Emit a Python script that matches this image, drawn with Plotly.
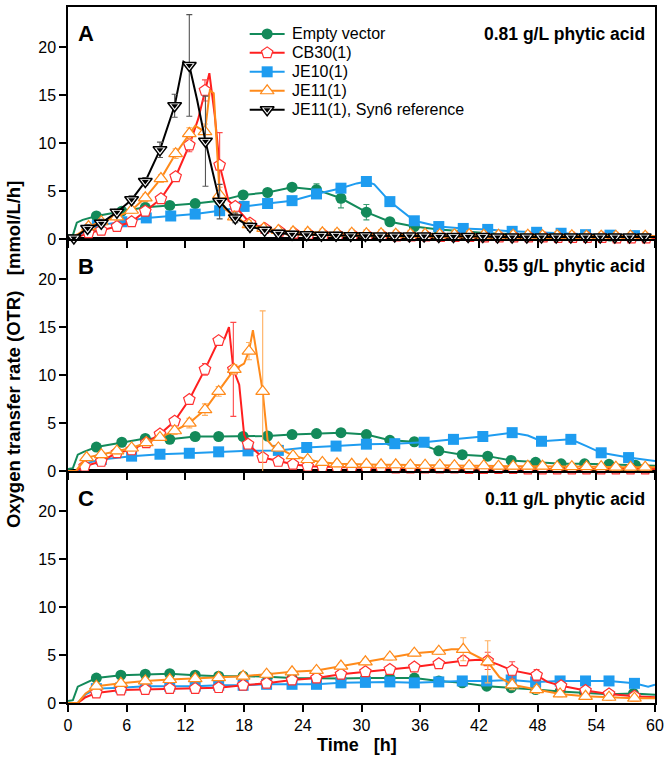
import plotly.graph_objects as go

# ---------------- data (time in h, OTR in mmol/L/h, e = error bar; None = no marker) ----------------
# Panel A : 0.81 g/L phytic acid
A_empty_t = [0, 0.5, 0.9, 1.5, 2.9, 5.5, 7.9, 10.4, 13.0, 15.5, 17.9, 20.4, 22.9, 25.4, 27.9, 30.5, 32.9, 35.4, 37.9, 40.4, 42.9, 45.4, 47.9, 50.4, 52.9, 55.4, 57.9, 60]
A_empty_y = [0.4, 0.4, 1.7, 2.0, 2.4, 2.9, 3.3, 3.5, 3.7, 4.0, 4.6, 4.85, 5.4, 5.15, 4.25, 2.8, 1.8, 1.3, 1.0, 0.8, 0.6, 0.5, 0.45, 0.4, 0.35, 0.3, 0.3, 0.3]
A_empty_e = [None, None, None, None, 0.2, 0.15, 0.15, 0.15, 0.15, 0.2, 0.2, 0.2, 0.2, 0.6, 1.0, 0.8, 0.3, 0.2, 0.15, 0.1, 0.1, 0.1, 0.1, 0.1, 0.1, 0.1, 0.1, None]

A_cb30_t = [0, 1.0, 2.1, 3.4, 5.0, 6.5, 7.9, 9.5, 11.0, 12.4,
            13.3, 14.0, 14.45, 15.0, 15.5, 16.4, 17.1, 18.6, 20.1, 21.6,
            23.1, 24.6, 26.1, 27.6, 29.1, 30.6, 32.1, 33.6, 35.1, 36.6,
            38.1, 39.6, 41.1, 42.6, 44.1, 45.6, 47.1, 48.6, 50.1, 51.6,
            53.1, 54.6, 56.1, 57.6, 59.1, 60]
A_cb30_y = [0, 0.2, 0.65, 0.9, 1.3, 1.8, 2.9, 4.2, 6.5, 9.8,
            12.5, 15.5, 17.3, 12.9, 7.7, 4.0, 3.4, 1.65, 1.1, 0.8,
            0.6, 0.5, 0.45, 0.4, 0.4, 0.35, 0.35, 0.3, 0.3, 0.3,
            0.25, 0.25, 0.25, 0.2, 0.2, 0.2, 0.2, 0.2, 0.15, 0.15,
            0.15, 0.15, 0.1, 0.1, 0.1, 0.1]
A_cb30_e = [None, None, 0.2, 0.2, 0.2, 0.2, 0.3, 0.3, 0.4, 0.7,
            None, 1.1, None, None, 3.4, None, 0.4, 0.3, 0.3, 0.2,
            0.2, 0.2, 0.2, 0.2, 0.2, 0.2, 0.2, 0.2, 0.2, 0.2,
            0.2, 0.2, 0.2, 0.2, 0.2, 0.2, 0.2, 0.2, 0.2, 0.2,
            0.2, 0.2, 0.2, 0.2, 0.2, None]

A_je10_t = [0, 0.9, 1.5, 2.6, 3.0, 5.5, 8.0, 10.5, 13.0, 15.5,
            18.0, 20.4, 22.9, 25.4, 27.9, 29.5, 30.5, 31.3, 32.9, 35.4,
            37.9, 40.4, 42.9, 45.4, 47.9, 50.4, 52.9, 55.4, 57.9, 60]
A_je10_y = [0, 0, 0.7, 1.1, 1.4, 1.8, 2.2, 2.4, 2.6, 2.95,
            3.4, 3.7, 4.0, 4.7, 5.3, 5.8, 6.0, 5.7, 3.9, 1.9,
            1.3, 1.1, 1.0, 0.8, 0.7, 0.6, 0.45, 0.4, 0.35, 0.3]
A_je10_e = [None, None, None, None, 0.1, 0.1, 0.1, 0.1, 0.1, 0.1,
            0.15, 0.15, 0.15, 0.2, 0.3, None, 0.3, None, 0.3, 0.2,
            0.15, 0.1, 0.1, 0.1, 0.1, 0.1, 0.1, 0.1, 0.1, None]

A_je11_t = [0, 1.0, 2.1, 3.4, 5.0, 6.5, 7.9, 9.5, 11.0, 12.4,
            13.0, 14.0, 14.5, 14.9, 15.5, 16.0, 17.0, 18.5, 20.0, 21.5,
            23.0, 24.5, 26.0, 27.5, 29.0, 30.5, 32.0, 33.5, 35.0, 36.5,
            38.0, 39.5, 41.0, 42.5, 44.0, 45.5, 47.0, 48.5, 50.0, 51.5,
            53.0, 54.5, 56.0, 57.5, 59.0, 60]
A_je11_y = [0, 0.5, 1.3, 1.8, 2.3, 3.0, 4.3, 6.3, 8.9, 11.0,
            11.8, 11.2, 15.5, 15.2, 4.6, 3.2, 2.3, 1.5, 1.1, 0.9,
            0.75, 0.7, 0.65, 0.6, 0.6, 0.55, 0.55, 0.5, 0.5, 0.5,
            0.45, 0.45, 0.45, 0.4, 0.4, 0.4, 0.4, 0.35, 0.35, 0.35,
            0.3, 0.3, 0.3, 0.3, 0.3, 0.3]
A_je11_e = [None, None, 0.3, 0.3, 0.3, 0.3, 0.4, 0.4, 0.5, 0.6,
            None, 0.8, None, None, 0.8, None, 0.4, 0.4, 0.3, 0.3,
            0.4, 0.4, 0.4, 0.4, 0.4, 0.4, 0.4, 0.4, 0.4, 0.4,
            0.4, 0.4, 0.4, 0.4, 0.4, 0.4, 0.4, 0.4, 0.4, 0.4,
            0.4, 0.4, 0.4, 0.4, 0.4, None]

A_syn6_t = [0, 0.6, 2.0, 3.4, 5.0, 6.5, 7.9, 9.4, 10.9, 11.8,
            12.4, 13.2, 14.05, 15.5, 17.1, 18.6, 20.1, 21.5, 22.9, 24.4,
            25.9, 27.4, 28.9, 30.4, 31.9, 33.4, 34.9, 36.4, 37.9, 39.4,
            40.9, 42.4, 43.9, 45.4, 46.9, 48.4, 49.9, 51.4, 52.9, 54.4,
            55.9, 57.4, 58.9, 60]
A_syn6_y = [0, 0.1, 1.1, 1.65, 2.8, 4.1, 6.0, 9.3, 13.9, 18.5,
            18.1, 14.5, 10.2, 3.9, 2.2, 1.3, 0.9, 0.6, 0.5, 0.45,
            0.4, 0.4, 0.35, 0.35, 0.3, 0.3, 0.3, 0.3, 0.25, 0.25,
            0.25, 0.25, 0.2, 0.2, 0.2, 0.2, 0.2, 0.2, 0.2, 0.2,
            0.2, 0.2, 0.2, 0.2]
A_syn6_e = [None, 0.1, 0.4, 0.4, 0.3, 0.4, 0.4, 0.8, 1.2, None,
            5.3, None, 4.7, 1.8, 0.5, 0.4, 0.3, 0.3, 0.3, 0.3,
            0.3, 0.3, 0.3, 0.3, 0.3, 0.3, 0.3, 0.3, 0.3, 0.3,
            0.3, 0.3, 0.3, 0.3, 0.3, 0.3, 0.3, 0.3, 0.3, 0.3,
            0.3, 0.3, 0.3, None]

# Panel B : 0.55 g/L phytic acid
B_empty_t = [0, 0.5, 1.0, 1.6, 2.9, 5.5, 7.9, 10.4, 13.0, 15.4,
             17.9, 20.4, 22.9, 25.4, 27.9, 30.5, 32.9, 35.4, 37.9, 40.3,
             42.9, 45.3, 47.8, 50.4, 52.8, 55.3, 58.0, 60]
B_empty_y = [0.2, 0.3, 1.7, 2.0, 2.5, 3.0, 3.4, 3.3, 3.6, 3.6,
             3.6, 3.65, 3.8, 3.9, 4.0, 3.8, 3.2, 3.05, 2.1, 1.7,
             1.55, 1.1, 0.9, 0.75, 0.75, 0.7, 0.6, 0.55]
B_empty_e = [None, None, None, None, 0.15, 0.15, 0.15, 0.15, 0.15, 0.15,
             0.15, 0.15, 0.15, 0.15, 0.2, 0.2, 0.3, 0.3, 0.2, 0.2,
             0.3, 0.2, 0.15, 0.15, 0.15, 0.15, 0.15, None]

B_cb30_t = [0, 0.8, 1.7, 3.4, 5.0, 6.5, 8.0, 9.4, 10.9, 12.4,
            14.0, 15.4, 16.0, 16.45, 16.9, 17.5, 18.0, 18.4, 19.9, 21.5,
            23.0, 24.5, 26.0, 27.5, 29.0, 30.5, 32.0, 33.5, 35.0, 36.5,
            38.0, 39.5, 41.0, 42.5, 44.0, 45.5, 47.0, 48.5, 50.0, 51.5,
            53.0, 54.5, 56.0, 57.5, 59.0, 60]
B_cb30_y = [0, 0, 0.5, 1.0, 1.9, 2.2, 2.95, 3.85, 5.2, 7.45,
            10.6, 13.6, 13.8, 15.0, 10.6, 9.0, 3.8, 2.8, 1.4, 1.0,
            0.7, 0.5, 0.45, 0.4, 0.4, 0.35, 0.35, 0.3, 0.3, 0.3,
            0.3, 0.3, 0.25, 0.25, 0.25, 0.25, 0.2, 0.2, 0.2, 0.2,
            0.2, 0.2, 0.2, 0.2, 0.2, 0.2]
B_cb30_e = [None, None, 0.2, 0.2, 0.2, 0.2, 0.2, 0.3, 0.3, 0.4,
            0.6, 0.3, None, None, 4.9, None, None, 0.3, 0.3, 0.3,
            0.3, 0.3, 0.3, 0.3, 0.3, 0.3, 0.3, 0.3, 0.3, 0.3,
            0.3, 0.3, 0.3, 0.3, 0.3, 0.3, 0.3, 0.3, 0.3, 0.3,
            0.3, 0.3, 0.3, 0.3, 0.3, None]

B_je10_t = [0, 1.0, 1.8, 3.4, 6.5, 9.4, 12.4, 15.4, 18.4, 21.5,
            24.4, 27.4, 30.5, 33.4, 36.4, 39.4, 42.4, 45.4, 47.0, 48.4,
            51.4, 53.0, 54.5, 57.3, 60]
B_je10_y = [0, 0, 0.8, 1.2, 1.55, 1.75, 1.85, 2.0, 2.1, 2.15,
            2.45, 2.6, 2.8, 2.85, 3.0, 3.3, 3.6, 4.0, 3.7, 3.1,
            3.3, 2.6, 1.9, 1.4, 1.05]
B_je10_e = [None, None, None, 0.1, 0.1, 0.1, 0.1, 0.1, 0.15, 0.15,
            0.15, 0.15, 0.15, 0.15, 0.15, 0.15, 0.15, 0.2, None, 0.3,
            0.4, None, 0.2, 0.15, None]

B_je11_t = [0, 0.8, 1.9, 3.4, 5.0, 6.5, 8.0, 9.4, 10.9, 12.4,
            14.0, 15.4, 17.0, 18.0, 18.5, 18.9, 19.9, 20.4, 20.9, 21.5,
            23.0, 24.5, 26.0, 27.5, 29.0, 30.5, 32.0, 33.5, 35.0, 36.5,
            38.0, 39.5, 41.0, 42.5, 44.0, 45.5, 47.0, 48.5, 50.0, 51.5,
            53.0, 54.5, 56.0, 57.5, 59.0, 60]
B_je11_y = [0, 0, 1.4, 1.7, 2.1, 2.4, 2.95, 3.5, 4.2, 5.0,
            6.4, 8.3, 10.6, 11.2, 12.5, 14.7, 8.3, 3.2, 2.6, 2.4,
            1.6, 1.2, 0.9, 0.75, 0.7, 0.7, 0.65, 0.65, 0.6, 0.6,
            0.6, 0.55, 0.55, 0.55, 0.5, 0.5, 0.5, 0.5, 0.45, 0.45,
            0.45, 0.45, 0.4, 0.4, 0.4, 0.4]
B_je11_e = [None, None, 0.3, 0.3, 0.3, 0.3, 0.3, 0.3, 0.4, 0.5,
            0.6, 0.5, 0.5, None, 0.9, None, 8.4, None, None, 0.3,
            0.3, 0.3, 0.3, 0.3, 0.3, 0.3, 0.3, 0.3, 0.3, 0.3,
            0.3, 0.3, 0.3, 0.3, 0.3, 0.3, 0.3, 0.3, 0.3, 0.3,
            0.3, 0.3, 0.3, 0.3, 0.3, None]

# Panel C : 0.11 g/L phytic acid
C_empty_t = [0, 0.5, 1.0, 1.6, 2.9, 5.4, 7.9, 10.4, 13.0, 15.4,
             17.9, 20.4, 22.9, 25.4, 27.9, 30.4, 32.9, 35.4, 37.9, 40.3,
             42.8, 45.3, 47.8, 50.3, 52.8, 55.3, 57.8, 60]
C_empty_y = [0.2, 0.3, 1.7, 2.0, 2.6, 2.9, 3.0, 3.05, 2.9, 2.8,
             2.8, 2.75, 2.6, 2.55, 2.55, 2.6, 2.6, 2.6, 2.3, 2.1,
             1.75, 1.6, 1.4, 1.2, 1.05, 0.9, 1.0, 0.85]
C_empty_e = [None, None, None, None, 0.15, 0.15, 0.15, 0.15, 0.15, 0.15,
             0.15, 0.2, 0.2, 0.2, 0.2, 0.2, 0.2, 0.2, 0.2, 0.2,
             0.2, 0.2, 0.2, 0.2, 0.2, 0.2, 0.2, None]

C_cb30_t = [0, 1.0, 1.8, 2.9, 5.4, 7.9, 10.4, 13.0, 15.4, 17.9,
            20.3, 22.9, 25.4, 27.9, 30.4, 32.9, 35.4, 37.9, 40.4, 42.0,
            42.9, 44.0, 45.4, 47.9, 49.0, 50.4, 52.9, 55.3, 57.9, 60]
C_cb30_y = [0, 0, 0.6, 1.05, 1.35, 1.4, 1.5, 1.5, 1.6, 1.85,
            2.05, 2.4, 2.6, 3.0, 3.25, 3.5, 3.75, 4.1, 4.4, 4.5,
            4.4, 4.0, 3.4, 2.9, 2.2, 1.8, 1.3, 0.95, 0.7, 0.6]
C_cb30_e = [None, None, None, 0.3, 0.3, 0.3, 0.3, 0.3, 0.3, 0.3,
            0.3, 0.3, 0.3, 0.3, 0.3, 0.3, 0.4, 0.4, 0.5, None,
            0.9, None, 0.9, 0.6, None, 0.3, 0.3, 0.3, 0.3, None]

C_je10_t = [0, 1.0, 1.8, 2.9, 5.4, 7.9, 10.4, 13.0, 15.4, 17.9,
            20.3, 22.9, 25.4, 27.9, 30.4, 32.9, 35.4, 37.9, 40.3, 42.8,
            45.3, 47.8, 50.3, 52.9, 55.3, 57.9, 59.3, 60]
C_je10_y = [0, 0, 0.9, 1.5, 1.6, 1.75, 1.75, 1.75, 1.85, 1.85,
            1.95, 1.95, 1.95, 2.1, 2.15, 2.2, 2.1, 2.2, 2.3, 2.3,
            2.4, 2.2, 2.3, 2.3, 2.3, 2.05, 1.7, 1.9]
C_je10_e = [None, None, None, 0.2, 0.2, 0.2, 0.2, 0.2, 0.2, 0.2,
            0.2, 0.2, 0.2, 0.2, 0.2, 0.2, 0.2, 0.2, 0.2, 0.2,
            0.2, 0.2, 0.2, 0.2, 0.2, 0.2, None, None]

C_je11_t = [0, 1.0, 1.8, 2.9, 5.4, 7.9, 10.4, 13.0, 15.4, 17.9,
            20.3, 22.9, 25.4, 27.9, 30.4, 32.9, 35.4, 37.9, 39.2, 40.4,
            41.4, 42.9, 44.1, 45.4, 47.9, 50.3, 52.9, 55.3, 57.9, 60]
C_je11_y = [0, 0, 1.0, 1.75, 2.05, 2.3, 2.45, 2.55, 2.65, 2.8,
            3.0, 3.25, 3.4, 3.85, 4.3, 4.8, 5.2, 5.4, 5.6, 5.6,
            5.1, 4.3, 2.7, 1.9, 1.4, 0.95, 0.7, 0.6, 0.5, 0.5]
C_je11_e = [None, None, None, 0.3, 0.3, 0.3, 0.3, 0.3, 0.3, 0.3,
            0.3, 0.3, 0.3, 0.3, 0.3, 0.3, 0.3, 0.3, None, 1.2,
            None, 2.2, None, 0.5, 0.4, 0.3, 0.3, 0.3, 0.3, None]

series_keys = ["empty", "cb30", "je10", "je11", "syn6"]
series_names = ["Empty vector", "CB30(1)", "JE10(1)", "JE11(1)", "JE11(1), Syn6 reference"]
panel_labels = ["A", "B", "C"]
panel_titles = ["0.81 g/L phytic acid", "0.55 g/L phytic acid", "0.11 g/L phytic acid"]
x_ticks = [0, 6, 12, 18, 24, 30, 36, 42, 48, 54, 60]
y_ticks = [0, 5, 10, 15, 20]

# ---------------- styles ----------------
FONT = "Arial, Liberation Sans, sans-serif"
GREEN, RED, BLUE, ORANGE, BLACK = "#138a5a", "#ff1f1f", "#1e9cf0", "#ff8a1a", "#000000"
styles = {
    "empty": dict(color=GREEN, ecolor="#3a9e72",
                  marker=dict(symbol="circle", size=11, color=GREEN, line=dict(width=0))),
    "cb30": dict(color=RED, ecolor="#ff4a4a",
                 marker=dict(symbol="pentagon", size=12, color="white", line=dict(color="#ff3030", width=1.2))),
    "je10": dict(color=BLUE, ecolor="#4ab0f2",
                 marker=dict(symbol="square", size=11, color=BLUE, line=dict(width=0))),
    "je11": dict(color=ORANGE, ecolor="#ffb060",
                 marker=dict(symbol="triangle-up", size=12, color="white", line=dict(color=ORANGE, width=1.2))),
    "syn6": dict(color=BLACK, ecolor="#555555",
                 marker=dict(symbol="triangle-down", size=12, color="white", line=dict(color=BLACK, width=1.5))),
}
syn6_inner = dict(symbol="triangle-down", size=6, color=BLACK, line=dict(width=0))

panels = [
    ("x3", "y3", [("empty", A_empty_t, A_empty_y, A_empty_e), ("je10", A_je10_t, A_je10_y, A_je10_e),
                  ("cb30", A_cb30_t, A_cb30_y, A_cb30_e), ("je11", A_je11_t, A_je11_y, A_je11_e),
                  ("syn6", A_syn6_t, A_syn6_y, A_syn6_e)]),
    ("x2", "y2", [("empty", B_empty_t, B_empty_y, B_empty_e), ("je10", B_je10_t, B_je10_y, B_je10_e),
                  ("cb30", B_cb30_t, B_cb30_y, B_cb30_e), ("je11", B_je11_t, B_je11_y, B_je11_e)]),
    ("x", "y", [("empty", C_empty_t, C_empty_y, C_empty_e), ("je10", C_je10_t, C_je10_y, C_je10_e),
                ("cb30", C_cb30_t, C_cb30_y, C_cb30_e), ("je11", C_je11_t, C_je11_y, C_je11_e)]),
]

fig = go.Figure()
for xa, ya, series in panels:
    for key, t, y, e in series:
        st = styles[key]
        fig.add_trace(go.Scatter(x=t, y=y, mode="lines", line=dict(color=st["color"], width=2),
                                 xaxis=xa, yaxis=ya, showlegend=False, hoverinfo="skip"))
        mt = [ti for ti, ei in zip(t, e) if ei is not None]
        my = [yi for yi, ei in zip(y, e) if ei is not None]
        me = [ei for ei in e if ei is not None]
        fig.add_trace(go.Scatter(x=mt, y=my, mode="markers", marker=st["marker"],
                                 error_y=dict(type="data", array=me, color=st["ecolor"], thickness=1.1, width=3),
                                 xaxis=xa, yaxis=ya, showlegend=False, cliponaxis=False, hoverinfo="skip"))
        if key == "syn6":
            fig.add_trace(go.Scatter(x=mt, y=my, mode="markers", marker=syn6_inner,
                                     xaxis=xa, yaxis=ya, showlegend=False, cliponaxis=False, hoverinfo="skip"))

# ---------------- hand-built legend on a pixel overlay axis (plot area: x 68..656, y 5..703 px) ----------------
LEG_X0, LEG_X1, LEG_TXT = 250, 285, 290
LEG_ROWS = [32, 51, 70, 89, 108]
ann = []
for key, name, ry in zip(series_keys, series_names, LEG_ROWS):
    st = styles[key]
    fig.add_trace(go.Scatter(x=[LEG_X0, LEG_X1], y=[ry, ry], mode="lines", line=dict(color=st["color"], width=2),
                             xaxis="x4", yaxis="y4", showlegend=False, hoverinfo="skip"))
    fig.add_trace(go.Scatter(x=[(LEG_X0 + LEG_X1) / 2], y=[ry], mode="markers", marker=st["marker"],
                             xaxis="x4", yaxis="y4", showlegend=False, hoverinfo="skip", cliponaxis=False))
    if key == "syn6":
        fig.add_trace(go.Scatter(x=[(LEG_X0 + LEG_X1) / 2], y=[ry], mode="markers", marker=syn6_inner,
                                 xaxis="x4", yaxis="y4", showlegend=False, hoverinfo="skip", cliponaxis=False))
    ann.append(dict(text=name, x=LEG_TXT, y=ry, xref="x4", yref="y4", xanchor="left", yanchor="middle",
                    showarrow=False, font=dict(family=FONT, size=16, color="black")))

axis_common = dict(showline=True, linecolor="black", linewidth=1.5, mirror=True,
                   ticks="outside", ticklen=7, tickwidth=1.5, tickcolor="black",
                   showgrid=False, zeroline=False, tickfont=dict(family=FONT, size=16, color="black"))
fig.update_layout(
    width=669, height=768,
    margin=dict(l=68, r=13, t=5, b=65),
    paper_bgcolor="white", plot_bgcolor="rgba(0,0,0,0)",
    font=dict(family=FONT, color="black"),
    xaxis=dict(domain=[0, 1], anchor="y", range=[0, 60], tickvals=x_ticks, **axis_common),
    xaxis2=dict(domain=[0, 1], anchor="y2", range=[0, 60], tickvals=x_ticks, showticklabels=False, matches="x", **axis_common),
    xaxis3=dict(domain=[0, 1], anchor="y3", range=[0, 60], tickvals=x_ticks, showticklabels=False, matches="x", **axis_common),
    yaxis=dict(domain=[0, 1/3], anchor="x", range=[0, 24.2], tickvals=y_ticks, **axis_common),
    yaxis2=dict(domain=[1/3, 2/3], anchor="x2", range=[0, 24.2], tickvals=y_ticks, **axis_common),
    yaxis3=dict(domain=[2/3, 1], anchor="x3", range=[0, 24.2], tickvals=y_ticks, **axis_common),
    xaxis4=dict(domain=[0, 1], anchor="y4", range=[68, 656], visible=False, fixedrange=True),
    yaxis4=dict(domain=[0, 1], anchor="x4", range=[703, 5], visible=False, fixedrange=True),
    showlegend=False,
)

label_y = [0.9617, 0.6275, 0.2933]
for lab, title, yy in zip(panel_labels, panel_titles, label_y):
    ann.append(dict(text="<b>%s</b>" % lab, x=0.0315, y=yy, xref="paper", yref="paper",
                    xanchor="center", yanchor="middle", showarrow=False,
                    font=dict(family=FONT, size=22, color="black")))
    ann.append(dict(text="<b>%s</b>" % title, x=0.9864, y=yy, xref="paper", yref="paper",
                    xanchor="right", yanchor="middle", showarrow=False,
                    font=dict(family=FONT, size=17.5, color="black")))
ann.append(dict(text="<b>Oxygen transfer rate (OTR)\u00a0\u00a0\u00a0[mmol/L/h]</b>", x=-0.0935, y=0.5,
                xref="paper", yref="paper", textangle=-90, xanchor="center", yanchor="middle",
                showarrow=False, font=dict(family=FONT, size=18.5, color="black")))
ann.append(dict(text="<b>Time\u00a0\u00a0\u00a0[h]</b>", x=0.493, y=-0.0602, xref="paper", yref="paper",
                xanchor="center", yanchor="middle", showarrow=False,
                font=dict(family=FONT, size=18, color="black")))
fig.update_layout(annotations=ann)

fig.write_html("out.html")
